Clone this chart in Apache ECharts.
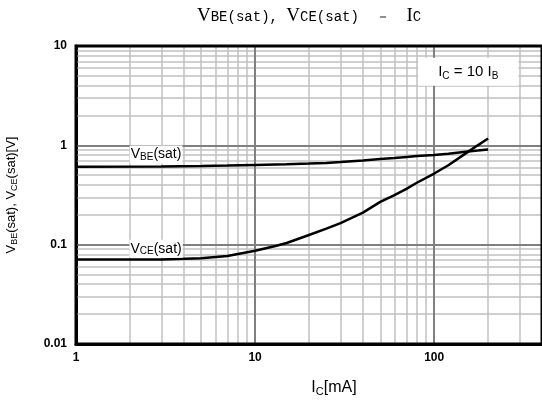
<!DOCTYPE html>
<html><head><meta charset="utf-8">
<script src="https://cdn.jsdelivr.net/npm/echarts@6/dist/echarts.min.js"></script>
<style>html,body{margin:0;padding:0;background:#fff}#c{width:542px;height:403px}</style>
</head><body><div id="c"></div>
<script>
const icValues = [1, 3, 5, 7, 10, 13, 15, 20, 25, 30, 40, 50, 60, 70, 80, 100, 120, 150, 175, 200];
const vbeSat = [0.61, 0.612, 0.618, 0.625, 0.635, 0.642, 0.645, 0.655, 0.665, 0.68, 0.705, 0.73, 0.745, 0.765, 0.78, 0.80, 0.825, 0.86, 0.885, 0.91];
const vceSat = [0.071, 0.071, 0.073, 0.077, 0.087, 0.097, 0.104, 0.125, 0.145, 0.165, 0.21, 0.27, 0.315, 0.365, 0.42, 0.52, 0.63, 0.83, 1.0, 1.17];
const xMinorGrid = [2,3,4,5,6,7,8,9,20,30,40,50,60,70,80,90,200,300];
const xMajorGrid = [10, 100];
const yMinorGrid = [0.02,0.03,0.04,0.05,0.06,0.07,0.08,0.09,0.2,0.3,0.4,0.5,0.6,0.7,0.8,0.9,2,3,4,5,6,7,8,9];
const yMajorGrid = [0.1, 1];
const xTickLabels = [1, 10, 100];
const yTickLabels = [0.01, 0.1, 1, 10];
const annotationPos = [155, 5.5];
const vbeLabelPos = [2.8, 0.81];
const vceLabelPos = [2.8, 0.091];

const chart = echarts.init(document.getElementById('c'), null, {renderer: 'canvas'});
const F = 'Liberation Sans, Arial';
function richSet(size, subSize, drop) {
  return {
    v: {fontSize: size, fontFamily: F, color: '#000', lineHeight: size + 4},
    s: {fontSize: subSize, fontFamily: F, color: '#000', padding: [drop, 0, 0, 0], lineHeight: size + 4}
  };
}
function gridLines(arr, axis, color, width) {
  return arr.map(v => ({[axis]: v, lineStyle: {color: color, width: width, type: 'solid'}}));
}
const lineLabel = (txt) => ({
  show: true, position: 'inside', color: '#000',
  backgroundColor: '#fff', padding: [0, 1, 0, 1],
  formatter: txt, rich: richSet(14, 10, 6)
});
chart.setOption({
  animation: false,
  backgroundColor: '#fff',
  title: {
    text: '{a|V}{b|BE(sat), }{a|V}{b|CE(sat)  －  }{a|I}{b|C}',
    left: 192, top: 2,
    textStyle: {
      fontWeight: 'normal',
      rich: {
        a: {fontFamily: 'Liberation Serif, DejaVu Serif', fontSize: 19, color: '#000', fontWeight: 'normal'},
        b: {fontFamily: 'Liberation Mono, DejaVu Sans Mono', fontSize: 14, color: '#000', fontWeight: 'normal', padding: [1, 0, 0, 0]}
      }
    }
  },
  grid: {left: 76, right: 0, top: 46, bottom: 59, show: true, borderColor: '#000', borderWidth: 3,
         backgroundColor: 'transparent', z: 5, containLabel: false, outerBoundsMode: 'none'},
  xAxis: {
    type: 'log', logBase: 10, min: 1, max: 400,
    axisLine: {show: true, lineStyle: {color: '#000', width: 3}},
    axisTick: {show: false}, splitLine: {show: false},
    axisLabel: {
      show: true, margin: 8, color: '#000', fontWeight: 'bold', fontSize: 12, fontFamily: F,
      showMaxLabel: false,
      formatter: v => (xTickLabels.indexOf(Math.round(v)) >= 0 ? String(Math.round(v)) : '')
    },
    name: '{v|I}{s|C}{v|[mA]}', nameLocation: 'middle', nameGap: 34,
    nameTextStyle: {rich: richSet(16, 11, 7), padding: [0, 0, 0, 50]}
  },
  yAxis: {
    type: 'log', logBase: 10, min: 0.01, max: 10,
    axisLine: {show: true, lineStyle: {color: '#000', width: 3}},
    axisTick: {show: false}, splitLine: {show: false},
    axisLabel: {
      show: true, margin: 9, color: '#000', fontWeight: 'bold', fontSize: 12, fontFamily: F,
      formatter: v => {
        const m = yTickLabels.find(t => Math.abs(t - v) / t < 1e-6);
        return m !== undefined ? String(m) : '';
      }
    },
    name: '{v|V}{s|BE}{v|(sat), V}{s|CE}{v|(sat)[V]}', nameLocation: 'middle', nameGap: 56, nameRotate: 90,
    nameTextStyle: {rich: richSet(13, 9, 6)}
  },
  series: [
    {
      type: 'line', data: [], silent: true, z: 1,
      markLine: {
        silent: true, z: 1, symbol: ['none', 'none'], label: {show: false}, animation: false,
        data: [].concat(
          gridLines(xMinorGrid, 'xAxis', '#c0c0c0', 1.5),
          gridLines(yMinorGrid, 'yAxis', '#c0c0c0', 1.5),
          gridLines(xMajorGrid, 'xAxis', '#808080', 2),
          gridLines(yMajorGrid, 'yAxis', '#808080', 2)
        )
      }
    },
    {
      name: 'VBE(sat)', type: 'line', smooth: false, symbol: 'none', z: 10,
      lineStyle: {color: '#000', width: 2.5},
      data: icValues.map((x, i) => [x, vbeSat[i]]),
      markPoint: {
        symbol: 'rect', symbolSize: 0, silent: true, z: 11,
        label: lineLabel('{v|V}{s|BE}{v|(sat)}'),
        data: [{coord: vbeLabelPos}]
      }
    },
    {
      name: 'VCE(sat)', type: 'line', smooth: false, symbol: 'none', z: 10,
      lineStyle: {color: '#000', width: 2.5},
      data: icValues.map((x, i) => [x, vceSat[i]]),
      markPoint: {
        symbol: 'rect', symbolSize: 0, silent: true, z: 11,
        label: lineLabel('{v|V}{s|CE}{v|(sat)}'),
        data: [{coord: vceLabelPos}]
      }
    },
    {
      type: 'line', data: [], silent: true, z: 12,
      markPoint: {
        symbol: 'rect', symbolSize: 0, silent: true, z: 12,
        label: {
          show: true, position: 'inside', backgroundColor: '#fff', padding: [5, 20, 4, 20],
          formatter: '{v|I}{s|C}{v| = 10 I}{s|B}', rich: richSet(15, 10, 7)
        },
        data: [{coord: annotationPos}]
      }
    }
  ]
});
</script>
</body></html>
